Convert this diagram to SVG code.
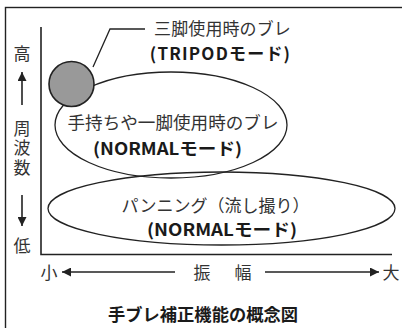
<svg xmlns="http://www.w3.org/2000/svg" width="402" height="328" viewBox="0 0 402 328">
<defs>
<style>
.t{font-family:"Noto Sans CJK JP","Noto Sans",sans-serif;font-size:17px;fill:#333}
.b{font-family:"Noto Sans CJK JP","Noto Sans",sans-serif;font-size:17px;font-weight:bold;fill:#1a1a1a}
.ln{fill:none;stroke:#222;stroke-width:1.3}
.ax{fill:none;stroke:#222;stroke-width:1.6}
</style>
<marker id="ah" viewBox="0 0 10 10" refX="10" refY="5" markerWidth="9" markerHeight="9" markerUnits="userSpaceOnUse" orient="auto">
<path d="M0,0 L10,5 L0,10 Z" fill="#222"/>
</marker>
</defs>
<rect x="5.5" y="7.5" width="420" height="340" fill="#fff" stroke="#222" stroke-width="1.4"/>
<g id="axes">
<path class="ax" d="M41,27 V254.5 H392"/>
</g>
<g id="yaxis-label">
<text class="t" x="22" y="60" text-anchor="middle">高</text>
<line class="ax" x1="22" y1="105" x2="22" y2="72" marker-end="url(#ah)" stroke-width="1.4"/>
<text class="t" x="22" y="120" writing-mode="vertical-rl" letter-spacing="2.5">周波数</text>
<line class="ax" x1="22" y1="195" x2="22" y2="226" marker-end="url(#ah)" stroke-width="1.4"/>
<text class="t" x="22" y="252" text-anchor="middle">低</text>
</g>
<g id="xaxis-label">
<text class="t" x="49" y="279" text-anchor="middle">小</text>
<line class="ax" x1="175" y1="272" x2="62" y2="272" marker-end="url(#ah)" stroke-width="1.4"/>
<text class="t" x="202" y="279" text-anchor="middle">振</text>
<text class="t" x="243" y="279" text-anchor="middle">幅</text>
<line class="ax" x1="265" y1="272" x2="379" y2="272" marker-end="url(#ah)" stroke-width="1.4"/>
<text class="t" x="391" y="279" text-anchor="middle">大</text>
</g>
<g id="node-panning">
<ellipse class="ln" cx="221.5" cy="208.5" rx="173.5" ry="36.5"/>
<text class="t" x="215.5" y="212" text-anchor="middle">パンニング（流し撮り）</text>
<text class="b" x="222" y="236" text-anchor="middle" textLength="150" lengthAdjust="spacingAndGlyphs">(NORMALモード)</text>
</g>
<g id="node-handheld">
<ellipse class="ln" cx="171" cy="125" rx="116" ry="53"/>
<text class="t" x="173" y="129" text-anchor="middle" textLength="211" lengthAdjust="spacingAndGlyphs">手持ちや一脚使用時のブレ</text>
<text class="b" x="167.5" y="155" text-anchor="middle" textLength="149" lengthAdjust="spacingAndGlyphs">(NORMALモード)</text>
</g>
<g id="node-tripod">
<circle cx="71.5" cy="84" r="22.5" fill="#999" stroke="#222" stroke-width="1.6"/>
<text text-anchor="middle"><tspan class="t" x="222.5" y="34.5" font-size="17.2" letter-spacing="0.1">三脚使用時のブレ</tspan><tspan class="b" x="220.5" y="59.5" font-size="16.8" letter-spacing="1.2">(TRIPODモード)</tspan></text>
</g>
<g id="connectors">
<path class="ln" d="M93,67 L110,29 H145" stroke-width="1"/>
</g>
<g id="title">
<text class="b" x="203" y="321" text-anchor="middle" textLength="190" lengthAdjust="spacingAndGlyphs">手ブレ補正機能の概念図</text>
</g>
</svg>
